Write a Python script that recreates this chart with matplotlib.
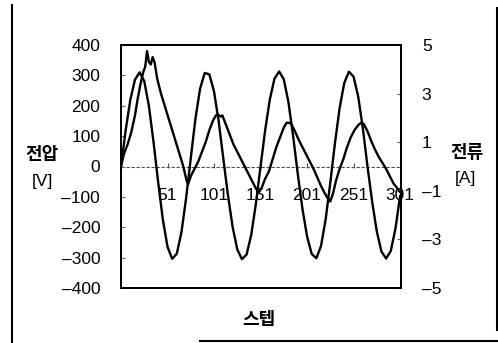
import matplotlib
matplotlib.use("Agg")
import matplotlib.pyplot as plt
from matplotlib.lines import Line2D

plt.rcParams['font.family'] = ['Liberation Sans', 'Noto Sans CJK KR', 'DejaVu Sans']

# voltage [V], sampled every 5 steps (1, 6, ..., 301)
voltage_steps = list(range(1, 302, 5))
voltage = [0, 119, 219, 286, 310, 281, 199, 80, -53, -175, -264, -304, -287, -216, -104,
           27, 157, 256, 308, 303, 247, 149, 26, -95, -199, -273, -305, -290, -225, -123,
           0, 120, 221, 289, 313, 287, 212, 101, -24, -138, -230, -288, -302, -262, -174,
           -53, 77, 192, 275, 312, 296, 230, 126, 0, -116, -214, -280, -303, -278, -205, -98]

# current [A], read at irregular steps
current_steps = [1, 4, 8, 12, 16, 19, 22, 25, 27, 29, 31, 33, 35, 37, 40, 44, 48, 52, 56, 60,
                 64, 68, 71, 73, 76, 80, 84, 88, 92, 96, 100, 103, 105, 108, 110, 114, 118,
                 122, 126, 130, 134, 138, 142, 146, 149, 152, 156, 160, 164, 168, 172, 176,
                 179, 182, 184, 188, 192, 196, 200, 204, 208, 212, 216, 220, 223, 226, 229,
                 232, 236, 240, 244, 248, 252, 256, 259, 262, 266, 270, 274, 278, 282, 286,
                 290, 294, 298, 302]
current = [0.0, 0.5, 0.9, 1.4, 2.1, 2.8, 3.4, 3.9, 4.1, 4.75, 4.3, 4.2, 4.5, 4.3, 3.6, 3.0,
           2.5, 2.0, 1.5, 1.0, 0.5, 0.0, -0.5, -0.74, -0.4, -0.1, 0.2, 0.6, 1.0, 1.5, 1.9,
           2.1, 2.15, 2.05, 2.1, 1.7, 1.3, 0.9, 0.6, 0.3, 0.0, -0.3, -0.6, -0.9, -1.07,
           -0.9, -0.5, -0.2, 0.3, 0.8, 1.2, 1.6, 1.8, 1.8, 1.75, 1.45, 1.1, 0.8, 0.5, 0.2,
           -0.1, -0.45, -0.8, -1.1, -1.3, -1.44, -1.1, -0.6, -0.1, 0.3, 0.8, 1.2, 1.5, 1.7,
           1.8, 1.75, 1.45, 1.05, 0.7, 0.4, 0.15, -0.1, -0.4, -0.7, -0.9, -1.1]

step_ticks = [51, 101, 151, 201, 251, 301]
volt_ticks = [400, 300, 200, 100, 0, -100, -200, -300, -400]
amp_ticks = [5, 3, 1, -1, -3, -5]

W, H = 498, 343
fig = plt.figure(figsize=(W / 100, H / 100), dpi=100)
ax = fig.add_axes([121 / W, 1 - 288 / H, 280 / W, 243 / H])
ax2 = ax.twinx()

ax.plot(voltage_steps, voltage, color='black', lw=1.7, zorder=3)
ax2.plot(current_steps, current, color='black', lw=1.7, zorder=3)

# category axis crossing at zero
ax.axhline(0, color='0.3', lw=0.8, ls=(0, (3, 1.5)), zorder=1)
ax.vlines(step_ticks, -6, 12, color='0.3', lw=0.8, zorder=1)
for s in step_ticks:
    ax.text(s, -95, str(s), ha='center', va='center', fontsize=12.5, zorder=2)

ax.set_xlim(1, 302)
ax.set_ylim(-400, 400)
ax.set_xticks([])
ax.set_yticks(volt_ticks)
ax.set_yticklabels([str(v).replace('-', '\u2013') for v in volt_ticks])
ax.tick_params(axis='y', direction='in', length=3, color='0.4', labelsize=12.5, pad=15)

ax2.set_ylim(-5, 5)
ax2.set_yticks(amp_ticks)
ax2.set_yticklabels([str(v).replace('-', '\u2013') for v in amp_ticks])
ax2.tick_params(axis='y', direction='in', length=3, color='0.4', labelsize=12.5, pad=15)

for a in (ax, ax2):
    for sp in a.spines.values():
        sp.set_linewidth(1.4)
        sp.set_color('black')

kr = ['Noto Sans CJK KR', 'DejaVu Sans']
fig.text(42 / W, 1 - 155 / H, '전압', family=kr, fontsize=13, fontweight='bold', ha='center', va='center')
fig.text(42 / W, 1 - 181 / H, '[V]', fontsize=12.5, ha='center', va='center')
fig.text(467 / W, 1 - 153 / H, '전류', family=kr, fontsize=13, fontweight='bold', ha='center', va='center')
fig.text(465 / W, 1 - 178 / H, '[A]', fontsize=12.5, ha='center', va='center')
fig.text(259 / W, 1 - 320 / H, '스텝', family=kr, fontsize=13, fontweight='bold', ha='center', va='center')

# scanned frame
fig.add_artist(Line2D([12 / W, 12 / W], [1 - 5 / H, 0], color='black', lw=1.5))
fig.add_artist(Line2D([497 / W, 497 / W], [1 - 8 / H, 1 - 330 / H], color='black', lw=1.5))
fig.add_artist(Line2D([200 / W, 1], [1 - 341 / H, 1 - 341 / H], color='black', lw=1.5))

fig.savefig('out.png', dpi=100)
